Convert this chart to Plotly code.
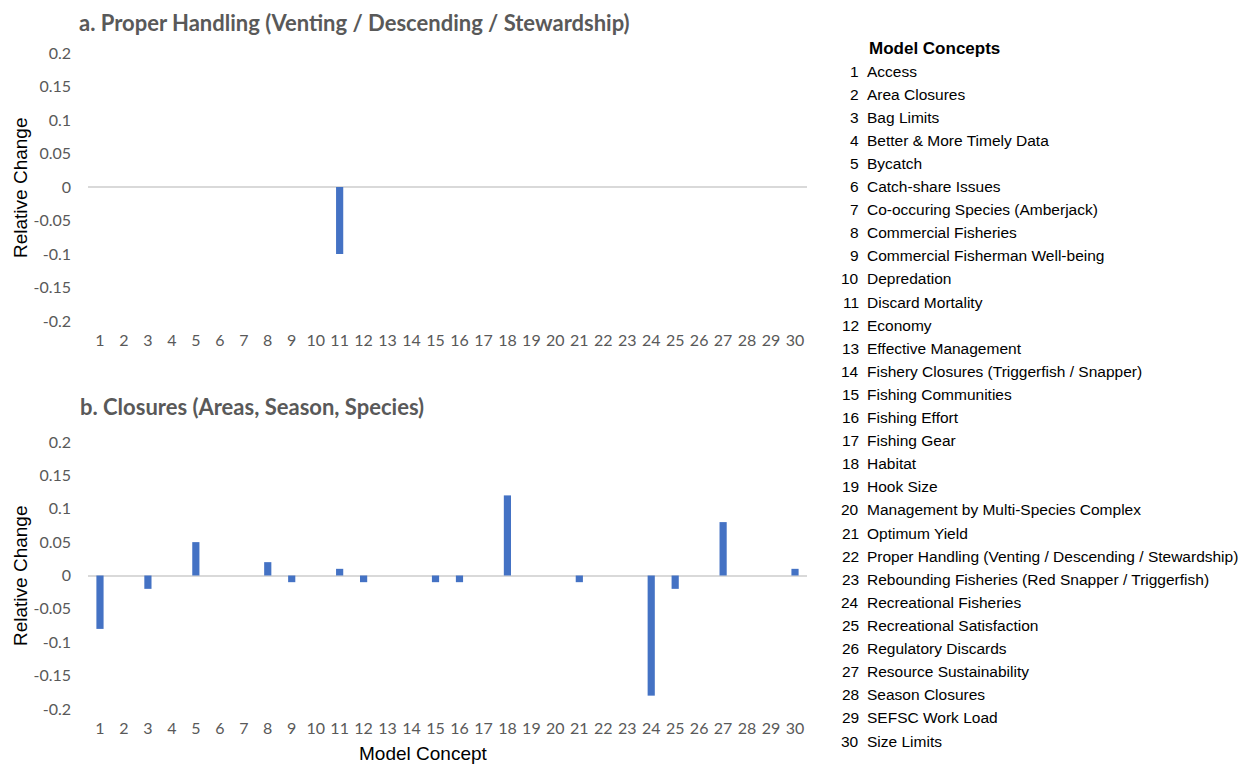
import plotly.graph_objects as go

concepts = list(range(1, 31))
concept_names = [
    "Access", "Area Closures", "Bag Limits", "Better & More Timely Data", "Bycatch",
    "Catch-share Issues", "Co-occuring Species (Amberjack)", "Commercial Fisheries",
    "Commercial Fisherman Well-being", "Depredation", "Discard Mortality", "Economy",
    "Effective Management", "Fishery Closures (Triggerfish / Snapper)", "Fishing Communities",
    "Fishing Effort", "Fishing Gear", "Habitat", "Hook Size",
    "Management by Multi-Species Complex", "Optimum Yield",
    "Proper Handling (Venting / Descending / Stewardship)",
    "Rebounding Fisheries (Red Snapper / Triggerfish)", "Recreational Fisheries",
    "Recreational Satisfaction", "Regulatory Discards", "Resource Sustainability",
    "Season Closures", "SEFSC Work Load", "Size Limits",
]
handling_values = [0, 0, 0, 0, 0, 0, 0, 0, 0, 0, -0.10, 0, 0, 0, 0,
                   0, 0, 0, 0, 0, 0, 0, 0, 0, 0, 0, 0, 0, 0, 0]
closures_values = [-0.08, 0, -0.02, 0, 0.05, 0, 0, 0.02, -0.01, 0, 0.01, -0.01, 0, 0, -0.01,
                   -0.01, 0, 0.12, 0, 0, -0.01, 0, 0, -0.18, -0.02, 0, 0.08, 0, 0, 0.01]
y_ticks = [0.2, 0.15, 0.1, 0.05, 0, -0.05, -0.1, -0.15, -0.2]

OFF = 8  # default page body margin
W, H = 1252 - OFF, 765 - OFF
L, R, T, B = 88 - OFF, 807 - OFF, 53 - OFF, 709 - OFF
PW, PH = R - L, B - T

def px_x(p):
    return (p - OFF - L) / PW

def px_y(p):
    return (B - (p - OFF)) / PH

bar_color = "#4472C4"
tick_font = dict(family="Lato, Open Sans, sans-serif", size=16, color="#595959")

fig = go.Figure()
fig.add_trace(go.Bar(x=concepts, y=handling_values, marker_color=bar_color,
                     marker_line_width=0, xaxis="x", yaxis="y", showlegend=False))
fig.add_trace(go.Bar(x=concepts, y=closures_values, marker_color=bar_color,
                     marker_line_width=0, xaxis="x2", yaxis="y2", showlegend=False))

xcommon = dict(range=[0.5, 30.5], tickmode="array", tickvals=concepts,
               ticktext=[str(c) for c in concepts], showgrid=False, zeroline=False,
               showline=False, ticks="", tickfont=tick_font, ticklabelstandoff=8,
               fixedrange=True)
ycommon = dict(range=[-0.2, 0.2], tickmode="array", tickvals=y_ticks,
               ticktext=[("%g" % v) for v in y_ticks], showgrid=False, zeroline=True,
               zerolinecolor="#D9D9D9", zerolinewidth=1.5, showline=False, ticks="",
               tickfont=tick_font, ticklabelstandoff=16)

fig.update_layout(
    width=W, height=H,
    margin=dict(l=L, r=W - R, t=T, b=H - B),
    paper_bgcolor="white", plot_bgcolor="white",
    bargap=0.7,
    xaxis=dict(domain=[0, 1], anchor="y", **xcommon),
    yaxis=dict(domain=[px_y(321), 1], anchor="x", **ycommon),
    xaxis2=dict(domain=[0, 1], anchor="y2", **xcommon),
    yaxis2=dict(domain=[0, px_y(442)], anchor="x2", **ycommon),
)

ann = []
title_font = dict(family="Lato, Open Sans, sans-serif", size=22, color="#595959")
ann.append(dict(text="<b>a. Proper Handling (Venting / Descending / Stewardship)</b>",
                x=px_x(78), y=px_y(OFF), xref="paper", yref="paper",
                xanchor="left", yanchor="top", borderpad=0, showarrow=False, font=title_font))
ann.append(dict(text="<b>b. Closures (Areas, Season, Species)</b>",
                x=px_x(78), y=px_y(406), xref="paper", yref="paper",
                xanchor="left", yanchor="middle", showarrow=False, font=title_font))
axis_font = dict(family="Liberation Sans, Arial, sans-serif", size=19, color="black")
for cy in (188, 576):
    ann.append(dict(text="Relative Change", x=px_x(20), y=px_y(cy), xref="paper", yref="paper",
                    xanchor="center", yanchor="middle", textangle=-90, showarrow=False,
                    font=axis_font))
ann.append(dict(text="Model Concept", x=px_x(423), y=px_y(753), xref="paper", yref="paper",
                xanchor="center", yanchor="middle", showarrow=False, font=axis_font))

legend_font = dict(family="Liberation Sans, Arial, sans-serif", size=15.5, color="black")
ann.append(dict(text="<b>Model Concepts</b>", x=px_x(867), y=px_y(48), xref="paper",
                yref="paper", xanchor="left", yanchor="middle", showarrow=False,
                font=dict(family="Liberation Sans, Arial, sans-serif", size=17, color="black")))
step = (741 - 71) / 29
for i, (num, name) in enumerate(zip(concepts, concept_names)):
    yy = px_y(71 + i * step)
    ann.append(dict(text=str(num), x=px_x(861), y=yy, xref="paper", yref="paper",
                    xanchor="right", yanchor="middle", showarrow=False, font=legend_font))
    ann.append(dict(text=name, x=px_x(865), y=yy, xref="paper", yref="paper",
                    xanchor="left", yanchor="middle", showarrow=False, font=legend_font))

fig.update_layout(annotations=ann)
fig.write_html("out.html")
